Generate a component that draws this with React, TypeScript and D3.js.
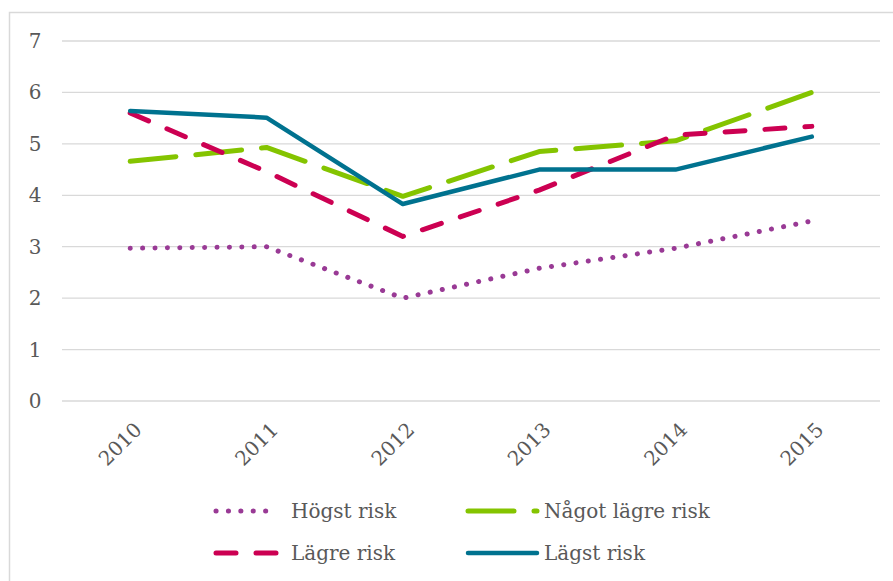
import React from 'react';
import * as d3 from 'd3';

const years = ['2010', '2011', '2012', '2013', '2014', '2015'];
const hogstRisk = [2.97, 3.0, 2.0, 2.58, 2.97, 3.5];
const nagotLagreRisk = [4.66, 4.93, 3.98, 4.85, 5.06, 6.0];
const lagreRisk = [5.6, 4.46, 3.2, 4.1, 5.17, 5.34];
const lagstRisk = [5.64, 5.51, 3.83, 4.5, 4.5, 5.14];
const yTicks = [0, 1, 2, 3, 4, 5, 6, 7];

const W = 893;
const H = 581;
const FONT = '"DejaVu Serif", Georgia, serif';
const TEXT = '#595959';

// series styles: color, width, dash pattern
const series = [
  { name: 'Högst risk', values: hogstRisk, color: '#993a95', width: 5, dash: '0.1 12.3' },
  { name: 'Något lägre risk', values: nagotLagreRisk, color: '#84c400', width: 5, dash: '46 20' },
  { name: 'Lägre risk', values: lagreRisk, color: '#cc0052', width: 5, dash: '20 20' },
  { name: 'Lägst risk', values: lagstRisk, color: '#00728f', width: 4.5, dash: null },
];

// legend placement (two rows, two columns)
const legendPos = [
  { x0: 216, x1: 278, tx: 291, y: 511 },
  { x0: 468, x1: 537, tx: 544, y: 511 },
  { x0: 216, x1: 278, tx: 291, y: 553 },
  { x0: 468, x1: 537, tx: 544, y: 553 },
];

const App = () => {
  const x = d3.scaleBand<string>().domain(years).range([62, 880]);
  const y = d3.scaleLinear().domain([0, 7]).range([401, 41]);

  const line = d3
    .line<number>()
    .x((_, i) => (x(years[i]) as number) + x.bandwidth() / 2)
    .y((d) => y(d));

  return (
    <svg width={W} height={H} style={{ position: 'absolute', left: 0, top: 0, background: '#fff' }}>
      <rect x={0} y={0} width={W} height={H} fill="#fff" />
      <rect x={9.5} y={12.5} width={W + 10} height={H + 10} fill="none" stroke="#d9d9d9" strokeWidth={1.5} />

      {/* gridlines and y labels */}
      {yTicks.map((t) => (
        <g key={t}>
          <line x1={62} x2={880} y1={y(t)} y2={y(t)} stroke="#d9d9d9" strokeWidth={1.3} />
          <text x={35} y={y(t)} dy="0.35em" textAnchor="middle" fontFamily={FONT} fontSize={20} fill={TEXT}>
            {t}
          </text>
        </g>
      ))}

      {/* x labels */}
      {years.map((yr) => {
        const cx = (x(yr) as number) + x.bandwidth() / 2 + 3;
        const cy = 421;
        return (
          <text
            key={yr}
            transform={`translate(${cx},${cy}) rotate(-45)`}
            textAnchor="end"
            dy="0.7em"
            fontFamily={FONT}
            fontSize={20}
            fill={TEXT}
          >
            {yr}
          </text>
        );
      })}

      {/* lines */}
      {series.map((s) => (
        <path
          key={s.name}
          d={line(s.values) || ''}
          fill="none"
          stroke={s.color}
          strokeWidth={s.width}
          strokeDasharray={s.dash || undefined}
          strokeLinecap="round"
          strokeLinejoin="round"
        />
      ))}

      {/* legend */}
      {series.map((s, i) => {
        const p = legendPos[i];
        return (
          <g key={s.name}>
            <line
              x1={p.x0}
              x2={p.x1}
              y1={p.y}
              y2={p.y}
              stroke={s.color}
              strokeWidth={s.width}
              strokeDasharray={s.dash || undefined}
              strokeLinecap="round"
            />
            <text x={p.tx} y={p.y} dy="0.35em" fontFamily={FONT} fontSize={20} fill={TEXT}>
              {s.name}
            </text>
          </g>
        );
      })}
    </svg>
  );
};

export default App;
